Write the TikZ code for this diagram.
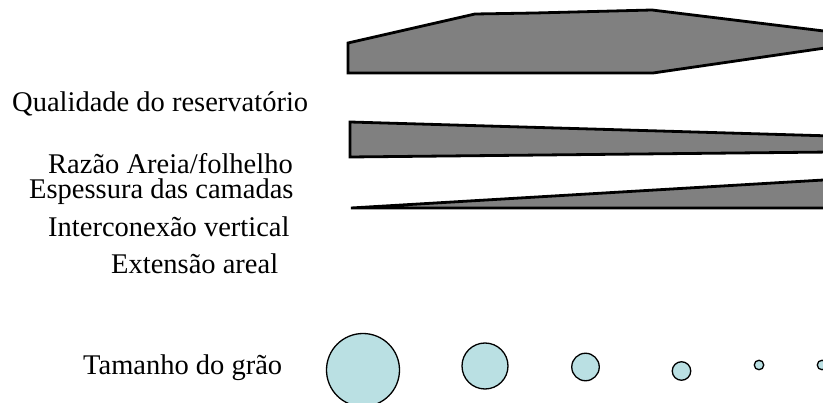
\documentclass[tikz,border=0pt]{standalone}
\usepackage{fontspec}
\setmainfont{Liberation Serif}
\definecolor{layergray}{HTML}{808080}
\definecolor{grain}{HTML}{BAE0E3}
\begin{document}
\begin{tikzpicture}[x=1pt,y=-1pt,
  lbl/.style={anchor=base west,inner sep=0pt,font=\fontsize{28.5}{34}\selectfont},
  layer/.style={fill=layergray,draw=black,line width=2.8pt,line join=miter},
  graincircle/.style={circle,draw=black,line width=1.3pt,fill=grain,inner sep=0pt,minimum size=#1}]
\useasboundingbox (0,0) rectangle (823,403);
\clip (0,0) rectangle (823,403);
% layers
\draw[layer] (348,73) -- (348,43) -- (475,14) -- (535,13) -- (652,10) -- (832,32) -- (832,47) -- (653,73) -- cycle;
\draw[layer] (350,157) -- (350,122) -- (832,136) -- (832,152) -- cycle;
\draw[layer] (351,208) -- (832,179.5) -- (832,208) -- cycle;
% labels
\node[lbl] (q) at (12,112) {Qualidade do reservatório};
\node[lbl] (r) at (48,174) {Razão Areia/folhelho};
\node[lbl] (e) at (29,199) {Espessura das camadas};
\node[lbl] (i) at (48,237) {Interconexão vertical};
\node[lbl] (x) at (111,274) {Extensão areal};
\node[lbl] (t) at (83,375) {Tamanho do grão};
% grains
\node[graincircle=73pt] (g1) at (363,370) {};
\node[graincircle=46pt] (g2) at (485,366) {};
\node[graincircle=27.5pt] (g3) at (585.5,367) {};
\node[graincircle=18.5pt] (g4) at (681.5,371) {};
\node[graincircle=9.5pt] (g5) at (759,365) {};
\node[graincircle=9.5pt] (g6) at (822,365) {};
\end{tikzpicture}
\end{document}
